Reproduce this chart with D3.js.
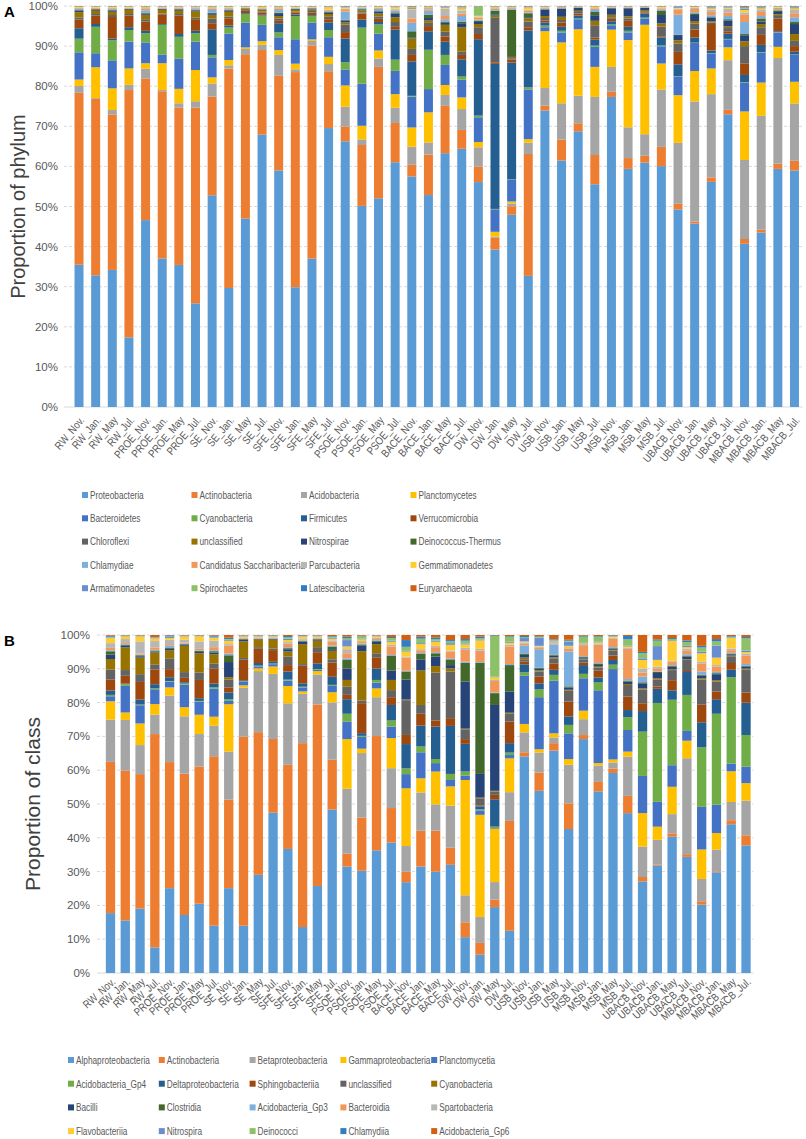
<!DOCTYPE html>
<html>
<head>
<meta charset="utf-8">
<script src="https://cdn.jsdelivr.net/npm/d3@7"></script>
<style>
  body { margin: 0; background: #fff; }
  text { font-family: "Liberation Sans", Arial, sans-serif; fill: #595959; }
</style>
</head>
<body>
<svg id="chart" width="806" height="1139"></svg>
<script>
// sample names (x axis)
const samples = ["RW_Nov.", "RW_Jan.", "RW_May", "RW_Jul.", "PROE_Nov.", "PROE_Jan.", "PROE_May", "PROE_Jul.",
  "SE_Nov.", "SE_Jan.", "SE_May", "SE_Jul.", "SFE_Nov.", "SFE_Jan.", "SFE_May", "SFE_Jul.",
  "PSOE_Nov.", "PSOE_Jan.", "PSOE_May", "PSOE_Jul.", "BACE_Nov.", "BACE_Jan.", "BACE_May", "BACE_Jul.",
  "DW_Nov.", "DW_Jan.", "DW_May", "DW_Jul.", "USB_Nov.", "USB_Jan.", "USB_May", "USB_Jul.",
  "MSB_Nov.", "MSB_Jan.", "MSB_May", "MSB_Jul.", "UBACB_Nov.", "UBACB_Jan.", "UBACB_May", "UBACB_Jul.",
  "MBACB_Nov.", "MBACB_Jan.", "MBACB_May", "MBACB_Jul."];

const yTicks = [0, 0.1, 0.2, 0.3, 0.4, 0.5, 0.6, 0.7, 0.8, 0.9, 1];

// Excel style series colours
const palette = ["#5B9BD5", "#ED7D31", "#A5A5A5", "#FFC000", "#4472C4", "#70AD47", "#255E91", "#9E480E",
  "#636363", "#997300", "#264478", "#43682B", "#7CAFDD", "#F1975A", "#B7B7B7", "#FFCD33",
  "#698ED0", "#8CC168", "#327DC2", "#D26012"];

// ---- Panel A: phylum (%) ----
const phylumNames = ["Proteobacteria", "Actinobacteria", "Acidobacteria", "Planctomycetes", "Bacteroidetes",
  "Cyanobacteria", "Firmicutes", "Verrucomicrobia", "Chloroflexi", "unclassified", "Nitrospirae",
  "Deinococcus-Thermus", "Chlamydiae", "Candidatus Saccharibacteria", "Parcubacteria", "Gemmatimonadetes",
  "Armatimonadetes", "Spirochaetes", "Latescibacteria", "Euryarchaeota"];

const proteobacteria = [35.5, 32.9, 34.2, 17.4, 46.7, 37.1, 35.5, 25.9, 52.8, 29.6, 47.1, 68.1, 59.0, 29.9, 37.1, 69.7, 66.2, 50.2, 52.1, 61.1, 57.5, 52.8, 63.3, 64.4, 56.2, 39.2, 47.9, 32.7, 74.1, 61.6, 68.9, 55.6, 77.4, 59.5, 61.2, 60.1, 49.3, 45.8, 56.2, 73.0, 40.7, 43.5, 59.5, 59.0];
const actinobacteria = [42.9, 44.1, 38.8, 61.8, 35.4, 41.8, 39.3, 48.9, 24.6, 54.6, 41.1, 21.1, 23.6, 53.7, 53.3, 14.2, 3.7, 15.2, 32.8, 9.8, 2.9, 10.1, 11.8, 4.7, 3.9, 2.9, 2.1, 30.4, 1.2, 5.2, 2.0, 7.3, 1.3, 2.7, 1.7, 4.8, 1.4, 0.5, 1.1, 1.1, 1.2, 0.7, 1.3, 2.4];
const acidobacteria = [1.7, 0.2, 1.1, 1.3, 2.4, 0.3, 1.1, 1.6, 3.3, 0.8, 1.3, 1.3, 5.2, 0.7, 1.1, 1.8, 4.9, 1.4, 2.1, 3.8, 4.5, 3.0, 2.7, 5.2, 4.8, 0.3, 0.7, 2.8, 4.4, 9.1, 6.9, 14.5, 6.2, 7.7, 5.4, 14.3, 15.2, 30.0, 20.8, 12.4, 19.7, 28.4, 26.4, 14.3];
const planctomycetes = [1.6, 7.7, 5.4, 4.1, 1.4, 6.7, 3.6, 7.8, 1.5, 1.3, 0.4, 0.9, 1.2, 1.4, 0.4, 1.8, 5.3, 3.4, 2.0, 3.4, 4.8, 7.5, 2.5, 2.9, 1.3, 1.2, 0.5, 0.9, 14.2, 15.2, 16.6, 7.5, 9.3, 21.8, 27.4, 6.5, 11.9, 7.6, 6.4, 3.2, 12.1, 8.3, 2.8, 5.4];
const bacteroidetes = [6.8, 3.5, 7.0, 6.7, 5.2, 2.1, 7.5, 7.1, 5.0, 6.6, 6.2, 4.1, 3.2, 6.1, 4.2, 4.9, 4.0, 10.5, 4.2, 5.8, 7.7, 5.8, 5.0, 4.4, 6.2, 5.6, 5.4, 12.4, 1.0, 2.5, 2.5, 5.0, 1.1, 1.9, 1.6, 4.3, 4.6, 7.0, 3.7, 2.0, 7.2, 7.5, 3.6, 6.7];
const cyanobacteria = [3.4, 6.6, 5.0, 2.9, 2.3, 7.5, 5.5, 2.1, 0.6, 1.5, 2.2, 2.3, 1.2, 5.8, 1.7, 1.8, 1.8, 14.0, 2.3, 2.8, 0.2, 9.8, 2.5, 0.8, 0.4, 0.1, 0.1, 0.5, 0.4, 0.4, 0.2, 0.3, 0.2, 0.4, 0.2, 0.2, 0.1, 0.1, 0.1, 0.1, 0.1, 0.1, 0.1, 0.1];
const firmicutes = [2.6, 0.7, 0.4, 0.7, 0.6, 0.2, 0.7, 0.6, 6.4, 0.5, 0.2, 0.2, 2.3, 0.4, 0.2, 1.9, 5.9, 2.0, 0.6, 7.5, 8.6, 4.6, 3.3, 4.3, 19.1, 36.1, 29.1, 14.2, 0.8, 1.0, 0.7, 1.5, 0.8, 1.0, 1.0, 2.0, 3.0, 1.3, 0.7, 1.3, 1.8, 1.8, 0.2, 0.7];
const verrucomicrobia = [2.2, 2.1, 5.4, 2.9, 2.3, 2.3, 4.6, 2.9, 1.5, 1.8, 0.5, 0.6, 0.6, 0.5, 0.6, 0.8, 1.6, 1.5, 0.8, 0.7, 1.6, 1.3, 1.3, 1.1, 1.3, 0.4, 0.8, 0.8, 0.5, 1.1, 0.5, 0.5, 0.6, 1.5, 0.3, 0.3, 3.1, 2.0, 6.6, 0.6, 2.9, 2.5, 3.2, 1.4];
const chloroflexi = [0.5, 0.4, 0.5, 0.4, 0.6, 0.3, 0.4, 0.4, 1.2, 0.4, 0.2, 0.2, 0.6, 0.2, 0.4, 0.6, 1.9, 0.3, 0.6, 1.2, 1.5, 0.8, 1.2, 0.8, 1.7, 11.2, 0.3, 1.4, 0.6, 0.6, 0.4, 3.1, 0.4, 0.6, 0.3, 2.4, 2.1, 1.5, 0.4, 0.8, 4.3, 1.9, 0.6, 1.3];
const unclassifiedPhylum = [1.3, 0.8, 0.8, 1.0, 1.1, 0.9, 0.8, 1.5, 0.9, 1.2, 0.3, 0.4, 0.6, 0.4, 0.4, 0.7, 0.5, 0.5, 0.7, 1.2, 2.6, 0.6, 1.7, 6.1, 0.8, 0.4, 0.3, 0.8, 0.5, 0.8, 0.3, 1.1, 0.6, 0.5, 0.3, 0.8, 0.8, 0.6, 0.3, 0.4, 1.2, 0.8, 0.4, 1.7];
const nitrospirae = [0.3, 0.2, 0.3, 0.2, 0.3, 0.2, 0.3, 0.3, 0.4, 0.3, 0.1, 0.1, 0.5, 0.2, 0.2, 0.4, 0.5, 0.2, 0.4, 0.9, 0.3, 0.6, 0.5, 1.0, 0.5, 0.2, 0.2, 0.3, 1.6, 2.0, 0.7, 1.4, 1.6, 2.0, 0.5, 2.1, 1.3, 1.5, 0.8, 1.5, 1.5, 0.6, 0.6, 2.5];
const deinococcusThermus = [0.2, 0.2, 0.2, 0.1, 0.2, 0.1, 0.2, 0.2, 0.1, 0.2, 0.1, 0.1, 0.3, 0.1, 0.1, 0.2, 0.2, 0.2, 0.2, 0.3, 1.5, 0.8, 0.3, 0.4, 0.3, 1.0, 11.6, 1.0, 0.1, 0.1, 0.1, 0.8, 0.1, 0.1, 0.1, 1.0, 0.1, 0.4, 0.2, 0.3, 0.3, 0.8, 0.4, 0.5];
const chlamydiae = [0.3, 0.1, 0.2, 0.1, 0.6, 0.1, 0.1, 0.3, 0.7, 0.2, 0.1, 0.1, 0.7, 0.1, 0.1, 0.2, 2.0, 0.2, 0.6, 0.5, 2.1, 1.0, 0.6, 1.4, 0.3, 0.2, 0.2, 0.2, 0.2, 0.1, 0.05, 0.5, 0.1, 0.1, 0.05, 0.3, 5.0, 0.3, 0.5, 0.8, 3.0, 0.6, 0.3, 1.2];
const saccharibacteria = [0.2, 0.2, 0.2, 0.1, 0.4, 0.2, 0.2, 0.2, 0.3, 0.2, 0.1, 0.1, 0.3, 0.1, 0.1, 0.2, 0.4, 0.1, 0.2, 0.2, 1.1, 0.4, 0.8, 0.6, 0.5, 0.3, 0.2, 0.4, 0.2, 0.2, 0.05, 0.3, 0.1, 0.1, 0.05, 0.3, 1.2, 0.8, 1.0, 0.8, 1.8, 1.0, 0.3, 1.0];
const parcubacteria = [0.1, 0.1, 0.1, 0.1, 0.2, 0.1, 0.1, 0.1, 0.2, 0.1, 0.05, 0.1, 0.2, 0.1, 0.05, 0.1, 0.3, 0.1, 0.1, 0.2, 2.1, 0.3, 1.8, 0.8, 0.2, 0.2, 0.1, 0.3, 0.1, 0.05, 0.05, 0.2, 0.05, 0.05, 0.05, 0.2, 0.3, 0.3, 0.4, 1.0, 0.6, 0.5, 0.1, 0.8];
const gemmatimonadetes = [0.2, 0.2, 0.2, 0.2, 0.2, 0.1, 0.1, 0.1, 0.2, 0.2, 0.1, 0.3, 0.2, 0.2, 0.1, 0.6, 0.3, 0.1, 0.2, 0.4, 0.3, 0.2, 0.3, 0.5, 0.2, 0.2, 0.1, 0.5, 0.1, 0.05, 0.05, 0.3, 0.05, 0.05, 0.05, 0.2, 0.2, 0.2, 0.3, 0.3, 0.6, 0.4, 0.2, 0.4];
const armatimonadetes = [0.1, 0.05, 0.1, 0.05, 0.1, 0.05, 0.05, 0.05, 0.1, 0.1, 0.05, 0.05, 0.1, 0.05, 0.05, 0.1, 0.1, 0.05, 0.05, 0.1, 0.3, 0.1, 0.2, 0.2, 0.1, 0.1, 0.1, 0.1, 0.05, 0.05, 0.05, 0.05, 0.05, 0.05, 0.05, 0.1, 0.2, 0.1, 0.3, 0.2, 0.4, 0.3, 0.05, 0.3];
const spirochaetes = [0.05, 0.05, 0.05, 0.05, 0.1, 0.05, 0.05, 0.05, 0.1, 0.05, 0.05, 0.05, 0.1, 0.05, 0.05, 0.1, 0.1, 0.05, 0.05, 0.1, 0.2, 0.1, 0.1, 0.2, 2.3, 0.1, 0.1, 0.1, 0.05, 0.05, 0.05, 0.05, 0.05, 0.05, 0.05, 0.05, 0.1, 0.05, 0.1, 0.1, 0.2, 0.1, 0.05, 0.1];
const latescibacteria = [0.05, 0.05, 0.05, 0.05, 0.05, 0.05, 0.05, 0.05, 0.05, 0.05, 0.05, 0.05, 0.05, 0.05, 0.05, 0.05, 0.1, 0.05, 0.05, 0.05, 0.1, 0.05, 0.05, 0.1, 0.05, 0.05, 0.05, 0.1, 0.05, 0.05, 0.05, 0.05, 0.05, 0.05, 0.05, 0.05, 0.1, 0.05, 0.1, 0.05, 0.2, 0.1, 0.05, 0.1];
const euryarchaeota = [0.05, 0.05, 0.05, 0.05, 0.05, 0.05, 0.05, 0.05, 0.05, 0.05, 0.05, 0.05, 0.05, 0.05, 0.05, 0.05, 0.1, 0.05, 0.05, 0.05, 0.1, 0.05, 0.05, 0.1, 0.05, 0.05, 0.05, 0.1, 0.05, 0.05, 0.05, 0.05, 0.05, 0.05, 0.05, 0.05, 0.05, 0.05, 0.1, 0.05, 0.2, 0.1, 0.05, 0.1];

const phylumValues = [proteobacteria, actinobacteria, acidobacteria, planctomycetes, bacteroidetes,
  cyanobacteria, firmicutes, verrucomicrobia, chloroflexi, unclassifiedPhylum, nitrospirae,
  deinococcusThermus, chlamydiae, saccharibacteria, parcubacteria, gemmatimonadetes,
  armatimonadetes, spirochaetes, latescibacteria, euryarchaeota];

// ---- Panel B: class (%) ----
const classNames = ["Alphaproteobacteria", "Actinobacteria", "Betaproteobacteria", "Gammaproteobacteria",
  "Planctomycetia", "Acidobacteria_Gp4", "Deltaproteobacteria", "Sphingobacteriia", "unclassified",
  "Cyanobacteria", "Bacilli", "Clostridia", "Acidobacteria_Gp3", "Bacteroidia", "Spartobacteria",
  "Flavobacteriia", "Nitrospira", "Deinococci", "Chlamydiia", "Acidobacteria_Gp6"];

const alphaproteobacteria = [17.7, 15.6, 19.1, 7.6, 25.1, 17.2, 20.5, 14.0, 25.1, 14.0, 29.1, 47.8, 36.7, 13.6, 25.8, 48.5, 31.5, 30.3, 36.3, 38.6, 26.9, 31.5, 30.0, 32.0, 10.6, 5.4, 19.5, 12.5, 64.3, 53.9, 65.8, 42.6, 69.2, 53.9, 59.3, 47.3, 27.1, 32.0, 40.4, 34.5, 20.2, 29.8, 44.1, 37.9];
const actinobacteriaClass = [44.7, 44.5, 39.8, 63.3, 37.3, 41.9, 40.6, 50.2, 26.2, 56.0, 42.3, 22.0, 24.9, 54.4, 53.8, 14.8, 3.8, 15.8, 33.8, 10.2, 3.1, 10.6, 12.1, 5.1, 4.4, 3.5, 2.2, 32.5, 1.2, 5.4, 2.2, 7.6, 1.2, 2.8, 1.3, 5.1, 1.3, 0.3, 1.0, 0.8, 1.0, 0.3, 1.2, 3.0];
const betaproteobacteria = [12.5, 15.0, 8.6, 5.8, 19.7, 17.0, 9.6, 9.0, 14.2, 14.5, 18.1, 19.4, 18.2, 14.6, 8.9, 17.0, 19.2, 19.1, 11.5, 11.8, 7.6, 11.3, 7.8, 12.4, 8.0, 7.7, 5.2, 8.5, 5.9, 5.9, 1.7, 11.4, 4.7, 4.9, 1.8, 11.6, 9.0, 7.3, 5.7, 28.5, 6.6, 6.4, 5.4, 10.3];
const gammaproteobacteria = [5.4, 2.2, 6.4, 3.1, 2.4, 2.7, 5.7, 2.7, 14.0, 0.7, 0.8, 2.2, 5.1, 0.7, 1.0, 3.0, 14.7, 1.3, 2.6, 8.9, 17.1, 4.2, 9.7, 5.7, 34.1, 30.2, 15.8, 10.0, 2.5, 1.0, 1.2, 1.7, 2.5, 0.7, 0.9, 1.5, 9.9, 3.9, 8.1, 5.2, 8.7, 4.9, 9.1, 5.2];
const planctomycetia = [1.5, 7.9, 5.4, 4.4, 1.7, 6.7, 3.9, 8.3, 1.0, 1.0, 0.6, 0.7, 1.6, 1.2, 0.4, 1.9, 5.2, 3.5, 1.7, 3.4, 4.2, 7.7, 2.5, 1.9, 1.3, 1.3, 0.2, 1.0, 14.3, 15.4, 15.6, 7.6, 9.6, 21.6, 26.8, 6.4, 11.0, 7.4, 6.4, 2.9, 12.6, 8.4, 2.3, 4.9];
const acidoGp4 = [0.4, 0.5, 0.2, 0.3, 0.2, 0.3, 0.2, 0.4, 0.5, 0.2, 0.2, 0.2, 0.3, 0.2, 0.2, 0.3, 2.3, 0.3, 0.8, 1.8, 1.7, 1.7, 1.2, 1.8, 1.2, 0.3, 0.4, 0.7, 1.0, 2.3, 1.7, 2.5, 1.3, 2.3, 1.3, 3.8, 13.1, 29.4, 19.4, 10.7, 17.6, 26.9, 25.6, 9.4];
const deltaproteobacteria = [1.3, 0.2, 1.5, 1.2, 1.1, 0.4, 0.8, 1.1, 2.0, 0.3, 0.8, 0.5, 2.4, 1.0, 1.7, 2.4, 4.3, 0.8, 3.4, 4.6, 7.2, 6.2, 9.6, 14.2, 8.2, 0.9, 8.1, 2.8, 2.4, 1.8, 1.5, 2.5, 2.6, 1.5, 1.4, 2.1, 6.1, 4.2, 2.8, 6.8, 7.4, 4.3, 2.2, 9.6];
const sphingobacteriia = [3.2, 2.3, 5.2, 4.4, 2.4, 1.3, 5.4, 4.4, 1.5, 6.1, 4.2, 3.5, 1.9, 5.2, 3.3, 4.2, 1.3, 8.9, 3.3, 2.3, 2.7, 3.5, 1.8, 2.3, 1.4, 0.3, 1.3, 6.4, 0.8, 2.0, 1.9, 4.4, 0.7, 2.0, 1.3, 4.0, 2.3, 0.7, 3.0, 0.3, 5.2, 2.3, 2.0, 3.0];
const unclassifiedClass = [3.0, 1.7, 2.3, 1.5, 3.2, 1.7, 2.2, 1.5, 2.3, 0.5, 0.5, 0.5, 2.5, 0.5, 1.5, 1.0, 2.4, 0.8, 1.2, 2.1, 10.3, 2.6, 14.2, 13.8, 2.9, 2.1, 1.0, 2.3, 0.7, 1.5, 1.5, 3.2, 1.0, 0.9, 1.5, 3.4, 4.1, 2.0, 3.0, 3.3, 7.4, 2.9, 2.0, 6.8];
const cyanobacteriaClass = [3.1, 6.7, 4.9, 3.5, 2.3, 7.8, 5.7, 2.8, 0.7, 4.9, 2.1, 2.6, 1.5, 5.9, 1.9, 2.5, 2.0, 14.6, 2.7, 3.0, 0.2, 10.2, 1.9, 0.9, 0.2, 0.2, 0.2, 0.3, 0.5, 0.3, 0.3, 0.3, 0.2, 0.3, 0.2, 0.3, 0.3, 0.4, 0.2, 0.2, 0.4, 0.4, 0.2, 0.3];
const bacilli = [1.3, 0.5, 0.4, 0.3, 0.5, 0.3, 0.4, 0.5, 4.5, 0.5, 0.2, 0.2, 0.7, 0.7, 0.3, 0.5, 3.4, 1.6, 0.7, 2.8, 5.9, 3.3, 2.8, 1.0, 13.9, 7.0, 25.4, 6.3, 0.8, 0.5, 0.5, 0.7, 0.4, 0.5, 0.3, 0.7, 1.5, 1.6, 0.8, 0.8, 0.8, 1.8, 0.4, 0.6];
const clostridia = [1.0, 0.3, 0.3, 0.3, 0.4, 0.2, 0.3, 0.4, 2.0, 0.2, 0.1, 0.1, 0.3, 0.2, 0.2, 0.8, 2.5, 0.4, 0.3, 4.3, 2.4, 1.6, 1.0, 1.7, 5.6, 32.9, 3.5, 7.8, 0.4, 0.3, 0.3, 0.3, 0.2, 0.3, 0.2, 0.3, 0.3, 0.3, 0.3, 0.3, 0.3, 0.3, 0.2, 0.3];
const acidoGp3 = [0.3, 0.2, 0.2, 0.2, 0.6, 0.2, 0.2, 0.3, 0.5, 0.1, 0.1, 0.1, 0.3, 0.2, 0.1, 0.3, 0.5, 0.3, 0.2, 0.3, 0.2, 0.3, 0.3, 0.3, 0.3, 0.2, 0.2, 0.3, 2.4, 5.5, 3.0, 10.3, 0.2, 0.3, 0.3, 0.5, 1.7, 0.2, 0.2, 0.4, 0.9, 0.4, 0.2, 0.5];
const bacteroidia = [0.7, 0.3, 0.3, 0.7, 0.4, 0.3, 0.4, 0.9, 2.3, 0.2, 0.2, 0.1, 1.0, 0.3, 0.2, 1.1, 1.5, 0.4, 0.3, 2.5, 3.9, 0.8, 1.5, 2.0, 3.5, 3.4, 3.4, 5.2, 0.5, 0.4, 0.3, 0.9, 3.2, 5.5, 2.6, 8.9, 1.2, 0.9, 1.0, 1.0, 2.4, 1.5, 0.8, 2.5];
const spartobacteria = [1.4, 1.2, 3.6, 1.9, 1.3, 0.8, 2.2, 1.9, 0.5, 0.2, 0.2, 0.2, 0.5, 0.3, 0.2, 0.4, 1.2, 0.3, 0.4, 0.5, 0.3, 0.3, 0.4, 0.3, 0.6, 0.5, 0.3, 0.5, 0.4, 0.3, 0.4, 0.4, 0.3, 0.3, 0.2, 0.3, 1.2, 0.5, 0.2, 0.6, 0.5, 0.5, 0.5, 0.5];
const flavobacteriia = [1.5, 0.8, 1.5, 0.8, 0.5, 1.0, 1.5, 0.9, 1.0, 0.3, 0.3, 0.3, 0.6, 0.5, 0.3, 0.5, 0.8, 0.5, 0.4, 0.9, 1.5, 1.5, 1.2, 1.7, 1.0, 2.5, 0.8, 0.6, 0.3, 0.3, 0.2, 0.4, 0.2, 0.3, 0.2, 0.4, 2.5, 2.0, 6.0, 0.5, 2.5, 2.2, 3.1, 0.5];
const nitrospira = [0.2, 0.1, 0.1, 0.2, 0.3, 0.1, 0.1, 0.2, 0.3, 0.1, 0.1, 0.1, 0.4, 0.1, 0.1, 0.3, 1.9, 0.2, 0.1, 0.3, 0.2, 0.3, 0.3, 0.5, 0.3, 0.3, 0.2, 0.3, 1.0, 2.4, 0.3, 1.2, 0.2, 0.2, 0.1, 0.3, 0.5, 4.1, 0.2, 0.5, 0.5, 3.6, 0.2, 0.5];
const deinococci = [0.2, 0.1, 0.1, 0.1, 0.2, 0.1, 0.1, 0.1, 0.2, 0.1, 0.1, 0.1, 0.5, 0.1, 0.1, 0.3, 0.5, 0.8, 0.1, 0.8, 1.2, 1.3, 0.5, 0.5, 0.8, 0.4, 12.0, 1.5, 0.3, 0.2, 0.2, 0.3, 1.8, 1.5, 0.2, 1.8, 1.5, 1.6, 0.3, 1.0, 1.2, 1.2, 0.2, 3.6];
const chlamydiia = [0.3, 0.1, 0.1, 0.1, 0.3, 0.1, 0.1, 0.3, 0.4, 0.1, 0.1, 0.1, 0.3, 0.2, 0.1, 0.2, 0.5, 0.1, 0.1, 0.3, 2.0, 0.6, 0.5, 0.4, 0.5, 0.4, 0.2, 0.2, 0.3, 0.2, 0.2, 0.3, 0.3, 0.2, 0.2, 1.0, 0.4, 0.4, 0.3, 0.5, 0.5, 0.7, 0.2, 0.4];
const acidoGp6 = [0.2, 0.1, 0.1, 0.6, 0.1, 0.1, 0.1, 0.2, 0.8, 0.1, 0.1, 0.1, 0.3, 0.1, 0.1, 0.3, 0.5, 0.2, 0.1, 0.6, 1.5, 0.5, 0.7, 1.5, 1.2, 0.5, 0.1, 0.3, 0.3, 0.4, 1.2, 1.4, 0.2, 0.3, 0.1, 0.3, 5.0, 1.3, 0.9, 1.6, 3.2, 1.2, 0.3, 0.6];

const classValues = [alphaproteobacteria, actinobacteriaClass, betaproteobacteria, gammaproteobacteria,
  planctomycetia, acidoGp4, deltaproteobacteria, sphingobacteriia, unclassifiedClass, cyanobacteriaClass,
  bacilli, clostridia, acidoGp3, bacteroidia, spartobacteria, flavobacteriia, nitrospira, deinococci,
  chlamydiia, acidoGp6];

const svg = d3.select("#chart");

// draws one 100% stacked column panel with its axes and legend
function drawPanel(cfg) {
  const g = svg.append("g");

  // build rows for d3.stack
  const rows = samples.map((s, i) => {
    const row = { sample: s };
    cfg.names.forEach((n, k) => { row[n] = cfg.values[k][i]; });
    return row;
  });
  const series = d3.stack().keys(cfg.names).offset(d3.stackOffsetExpand)(rows);

  const x = d3.scaleBand()
    .domain(samples)
    .range([cfg.left, cfg.right])
    .paddingInner(cfg.pad)
    .paddingOuter(cfg.pad / 2);
  const y = d3.scaleLinear().domain([0, 1]).range([cfg.bottom, cfg.top]);

  // gridlines
  g.selectAll(".grid")
    .data(yTicks.slice(1))
    .enter()
    .append("line")
    .attr("x1", cfg.gridLeft)
    .attr("x2", cfg.right)
    .attr("y1", d => y(d))
    .attr("y2", d => y(d))
    .attr("stroke", "#d9d9d9")
    .attr("stroke-width", 1)
    .attr("stroke-dasharray", "3,2");

  // baseline
  g.append("line")
    .attr("x1", cfg.gridLeft)
    .attr("x2", cfg.right)
    .attr("y1", y(0))
    .attr("y2", y(0))
    .attr("stroke", "#d9d9d9")
    .attr("stroke-width", 1);

  // bars
  g.selectAll(".layer")
    .data(series)
    .enter()
    .append("g")
    .attr("fill", (d, k) => palette[k])
    .selectAll("rect")
    .data(d => d)
    .enter()
    .append("rect")
    .attr("x", d => x(d.data.sample))
    .attr("width", x.bandwidth())
    .attr("y", d => y(d[1]))
    .attr("height", d => Math.max(0, y(d[0]) - y(d[1])));

  // y axis tick labels
  g.selectAll(".ytick")
    .data(yTicks)
    .enter()
    .append("text")
    .attr("x", cfg.tickX)
    .attr("y", d => y(d))
    .attr("dy", "0.35em")
    .attr("text-anchor", "end")
    .style("font-size", "11.5px")
    .text(d3.format(".0%"));

  // y axis title
  g.append("text")
    .attr("transform", `translate(${cfg.titleX},${(cfg.top + cfg.bottom) / 2}) rotate(-90)`)
    .attr("text-anchor", "middle")
    .style("font-size", cfg.titleSize + "px")
    .style("fill", "#404040")
    .text(cfg.title);

  // panel letter
  g.append("text")
    .attr("x", 4)
    .attr("y", cfg.letterY)
    .style("font-size", "15px")
    .style("font-weight", "bold")
    .style("fill", "#000")
    .text(cfg.letter);

  // x labels, rotated and squeezed like the narrow original font
  g.selectAll(".xlab")
    .data(samples)
    .enter()
    .append("text")
    .attr("transform", d => `translate(${x(d) + x.bandwidth() / 2 + 3},${cfg.labelY}) rotate(${cfg.labelAngle}) scale(0.85,1)`)
    .attr("dy", "0.35em")
    .attr("text-anchor", "end")
    .style("font-size", "11px")
    .text(d => d);

  // legend
  const leg = g.selectAll(".leg")
    .data(cfg.names)
    .enter()
    .append("g")
    .attr("transform", (d, k) => `translate(${cfg.legX + (k % cfg.legCols) * cfg.legColW},${cfg.legY + Math.floor(k / cfg.legCols) * cfg.legRowH})`);
  leg.append("rect")
    .attr("x", 0)
    .attr("y", -3)
    .attr("width", 6)
    .attr("height", 6)
    .attr("fill", (d, k) => palette[k]);
  leg.append("text")
    .attr("transform", "translate(8,0) scale(0.75,1)")
    .attr("dy", "0.35em")
    .style("font-size", "11px")
    .text(d => d);
}

drawPanel({
  names: phylumNames, values: phylumValues, letter: "A", letterY: 17,
  top: 6, bottom: 407, left: 70.7, right: 802.8, gridLeft: 64, pad: 0.46,
  tickX: 58, title: "Proportion of phylum", titleX: 25, titleSize: 20,
  labelY: 418, labelAngle: -50,
  legX: 82, legY: 495, legCols: 4, legColW: 109.5, legRowH: 23.3
});

drawPanel({
  names: classNames, values: classValues, letter: "B", letterY: 646,
  top: 635, bottom: 973, left: 103.1, right: 753.4, gridLeft: 97, pad: 0.37,
  tickX: 90, title: "Proportion of class", titleX: 40, titleSize: 21,
  labelY: 980, labelAngle: -42,
  legX: 68, legY: 1060, legCols: 5, legColW: 90.8, legRowH: 23.7
});
</script>
</body>
</html>
